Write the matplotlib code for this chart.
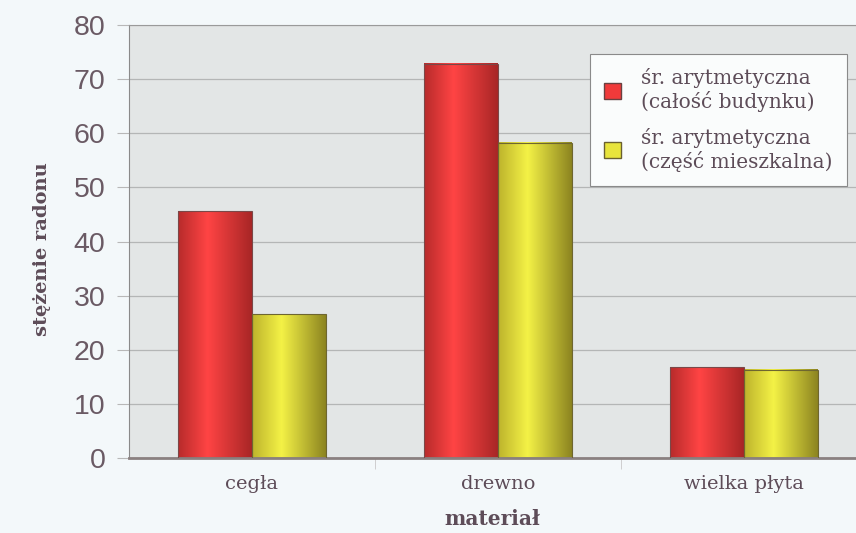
import numpy as np
import matplotlib
matplotlib.use('Agg')
import matplotlib.pyplot as plt
from matplotlib.patches import Patch
from matplotlib.colors import LinearSegmentedColormap

# --- data ---
categories = ['cegła', 'drewno', 'wielka płyta']
calosc = [45.6, 72.8, 16.8]       # śr. arytmetyczna (całość budynku)
mieszkalna = [26.6, 58.2, 16.3]   # śr. arytmetyczna (część mieszkalna)
series_labels = ['śr. arytmetyczna\n(całość budynku)',
                 'śr. arytmetyczna\n(część mieszkalna)']
yticks = [0, 10, 20, 30, 40, 50, 60, 70, 80]

text_col = '#5d4c58'
serif = ['DejaVu Serif']

# cylinder-like shading across each bar
red_cmap = LinearSegmentedColormap.from_list(
    'red_cyl', [(0, '#b72b2b'), (0.4, '#ff4444'), (1, '#a82626')])
yel_cmap = LinearSegmentedColormap.from_list(
    'yel_cyl', [(0, '#bdb32c'), (0.4, '#f4f246'), (1, '#8c8420')])

fig = plt.figure(figsize=(8.56, 5.33), dpi=100, facecolor='#f3f8fa')
ax = fig.add_axes([0.1507, 0.1407, 0.849, 0.8124])
ax.set_facecolor('#e3e6e6')

x = np.arange(len(categories))
w = 0.3
bars_r = ax.bar(x - w / 2, calosc, w, color='none', edgecolor='#7a4848', linewidth=0.8, zorder=3)
bars_y = ax.bar(x + w / 2, mieszkalna, w, color='none', edgecolor='#6e6630', linewidth=0.8, zorder=3)

grad = np.linspace(0, 1, 256).reshape(1, -1)
for bars, cmap in ((bars_r, red_cmap), (bars_y, yel_cmap)):
    for b in bars:
        bx, by = b.get_x(), b.get_y()
        ax.imshow(grad, cmap=cmap, aspect='auto', zorder=2,
                  extent=[bx, bx + b.get_width(), by, by + b.get_height()])

ax.set_xlim(-0.5, 2.455)
ax.set_ylim(0, 80)
ax.set_yticks(yticks)
ax.set_yticklabels([str(v) for v in yticks], fontsize=20.5, color='#6a5a64',
                   family=['Liberation Sans', 'DejaVu Sans'])
ax.yaxis.grid(True, color='#b4b6b6', linewidth=0.9, zorder=1)
ax.tick_params(axis='y', length=9, color='#b8b8b8', pad=8)

ax.set_xticks(x)
ax.set_xticklabels(categories, fontsize=14, color=text_col, family=serif)
ax.tick_params(axis='x', length=0, pad=12)
ax.set_xticks([0.5, 1.5], minor=True)
ax.tick_params(axis='x', which='minor', length=8, color='#c8c8c8')

ax.spines['right'].set_visible(False)
ax.spines['left'].set_color('#8a8a8a')
ax.spines['top'].set_color('#9a9a9a')
ax.spines['bottom'].set_color('#8a8080')
ax.spines['bottom'].set_linewidth(2)

ax.set_ylabel('stężenie radonu', fontsize=14, fontweight='bold', color=text_col, family=serif)
ax.yaxis.set_label_coords(-0.107, 0.483)
ax.set_xlabel('materiał', fontsize=14.5, fontweight='bold', color=text_col,
              family=serif, labelpad=12)

handles = [Patch(facecolor='#f03a3a', edgecolor='#6a4040'),
           Patch(facecolor='#e8e43c', edgecolor='#6a6030')]
leg = ax.legend(handles, series_labels, loc='upper left', bbox_to_anchor=(0.634, 0.934),
                borderaxespad=0, prop={'family': serif, 'size': 14.5}, labelcolor=text_col,
                frameon=True, fancybox=False, edgecolor='#8a8a8a', facecolor='#fafcfc',
                framealpha=1, handlelength=0.85, handleheight=0.85, handletextpad=0.95,
                borderpad=0.72, labelspacing=0.75)
leg.get_frame().set_linewidth(0.8)

fig.savefig('out.png', dpi=100, facecolor=fig.get_facecolor())
